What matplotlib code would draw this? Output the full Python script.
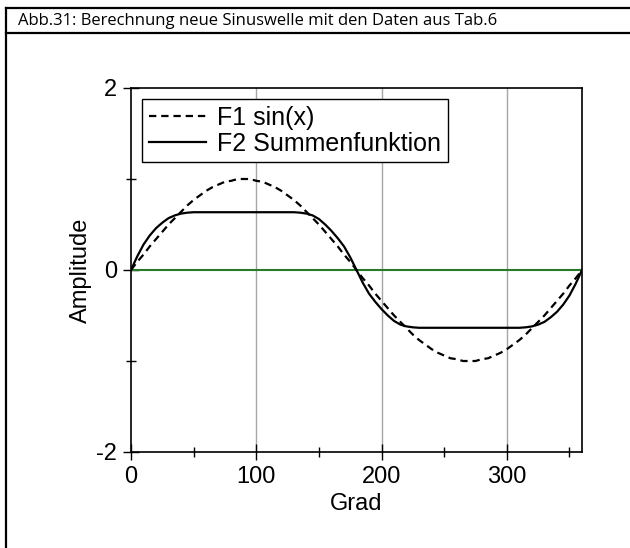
import matplotlib
matplotlib.use('Agg')
import matplotlib.pyplot as plt
from matplotlib.lines import Line2D

plt.rcParams['font.family'] = ['Liberation Sans', 'DejaVu Sans']
plt.rcParams['axes.unicode_minus'] = False

# Winkel in Grad, 5er Schritte
grad = list(range(0, 365, 5))

# F1 sin(x)
f1 = [0.00, 0.09, 0.17, 0.26, 0.34, 0.42, 0.50, 0.57, 0.64, 0.71,
      0.77, 0.82, 0.87, 0.91, 0.94, 0.97, 0.98, 1.00, 1.00, 1.00,
      0.98, 0.97, 0.94, 0.91, 0.87, 0.82, 0.77, 0.71, 0.64, 0.57,
      0.50, 0.42, 0.34, 0.26, 0.17, 0.09, 0.00, -0.09, -0.17, -0.26,
      -0.34, -0.42, -0.50, -0.57, -0.64, -0.71, -0.77, -0.82, -0.87, -0.91,
      -0.94, -0.97, -0.98, -1.00, -1.00, -1.00, -0.98, -0.97, -0.94, -0.91,
      -0.87, -0.82, -0.77, -0.71, -0.64, -0.57, -0.50, -0.42, -0.34, -0.26,
      -0.17, -0.09, 0.00]

# F2 Summenfunktion
f2 = [0.00, 0.15, 0.28, 0.38, 0.46, 0.52, 0.57, 0.60, 0.62, 0.63,
      0.635, 0.635, 0.635, 0.635, 0.635, 0.635, 0.635, 0.635, 0.635, 0.635,
      0.635, 0.635, 0.635, 0.635, 0.635, 0.635, 0.635, 0.63, 0.62, 0.60,
      0.56, 0.50, 0.43, 0.35, 0.26, 0.14, 0.00, -0.14, -0.26, -0.35,
      -0.43, -0.50, -0.56, -0.60, -0.62, -0.63, -0.635, -0.635, -0.635, -0.635,
      -0.635, -0.635, -0.635, -0.635, -0.635, -0.635, -0.635, -0.635, -0.635, -0.635,
      -0.635, -0.635, -0.635, -0.63, -0.62, -0.60, -0.57, -0.52, -0.46, -0.38,
      -0.28, -0.15, 0.00]

x_ticks = [0, 100, 200, 300]
x_minor = [50, 150, 250, 350]
y_ticks = [-2, 0, 2]
y_minor = [-1, 1]
titel = 'Abb.31: Berechnung neue Sinuswelle mit den Daten aus Tab.6'

fig = plt.figure(figsize=(6.3, 5.48), dpi=100)

# Rahmen und Titelzeile
fig.add_artist(Line2D([6/630, 6/630], [0, 1 - 8/548], color='black', lw=1.6, transform=fig.transFigure))
fig.add_artist(Line2D([6/630, 1], [1 - 8/548, 1 - 8/548], color='black', lw=1.6, transform=fig.transFigure))
fig.add_artist(Line2D([6/630, 1], [1 - 33/548, 1 - 33/548], color='black', lw=1.6, transform=fig.transFigure))
fig.text(18/630, 1 - 21/548, titel, fontsize=12, family=['Open Sans', 'DejaVu Sans'], va='center', ha='left')

ax = fig.add_axes([131/630, 1 - 452/548, 451/630, 364/548])

for g in x_ticks[1:]:
    ax.axvline(g, color='#a6a6a6', lw=1, zorder=1)
ax.plot([0, 360], [0, 0], color='#2a7a2a', lw=1.5, zorder=2)

ax.plot(grad, f1, color='black', lw=1.6, linestyle=(0, (3.3, 2.2)), label='F1 sin(x)', zorder=3)
ax.plot(grad, f2, color='black', lw=1.6, label='F2 Summenfunktion', zorder=4)

ax.set_xlim(0, 360)
ax.set_ylim(-2, 2)
ax.set_xticks(x_ticks)
ax.set_xticks(x_minor, minor=True)
ax.set_yticks(y_ticks)
ax.set_yticks(y_minor, minor=True)
ax.tick_params(which='major', direction='inout', length=12, width=1, labelsize=17, pad=4)
ax.tick_params(which='minor', direction='inout', length=7, width=1)
for s in ax.spines.values():
    s.set_linewidth(1.2)

ax.set_xlabel('Grad', fontsize=17, labelpad=4)
ax.set_ylabel('Amplitude', fontsize=17, labelpad=3)

leg = ax.legend(loc='upper left', fontsize=18, handlelength=2.3, fancybox=False,
                edgecolor='black', framealpha=1, borderaxespad=0.45, borderpad=0.25,
                labelspacing=0.1, handletextpad=0.45)
leg.get_frame().set_linewidth(1)

fig.savefig('out.png', dpi=100)
